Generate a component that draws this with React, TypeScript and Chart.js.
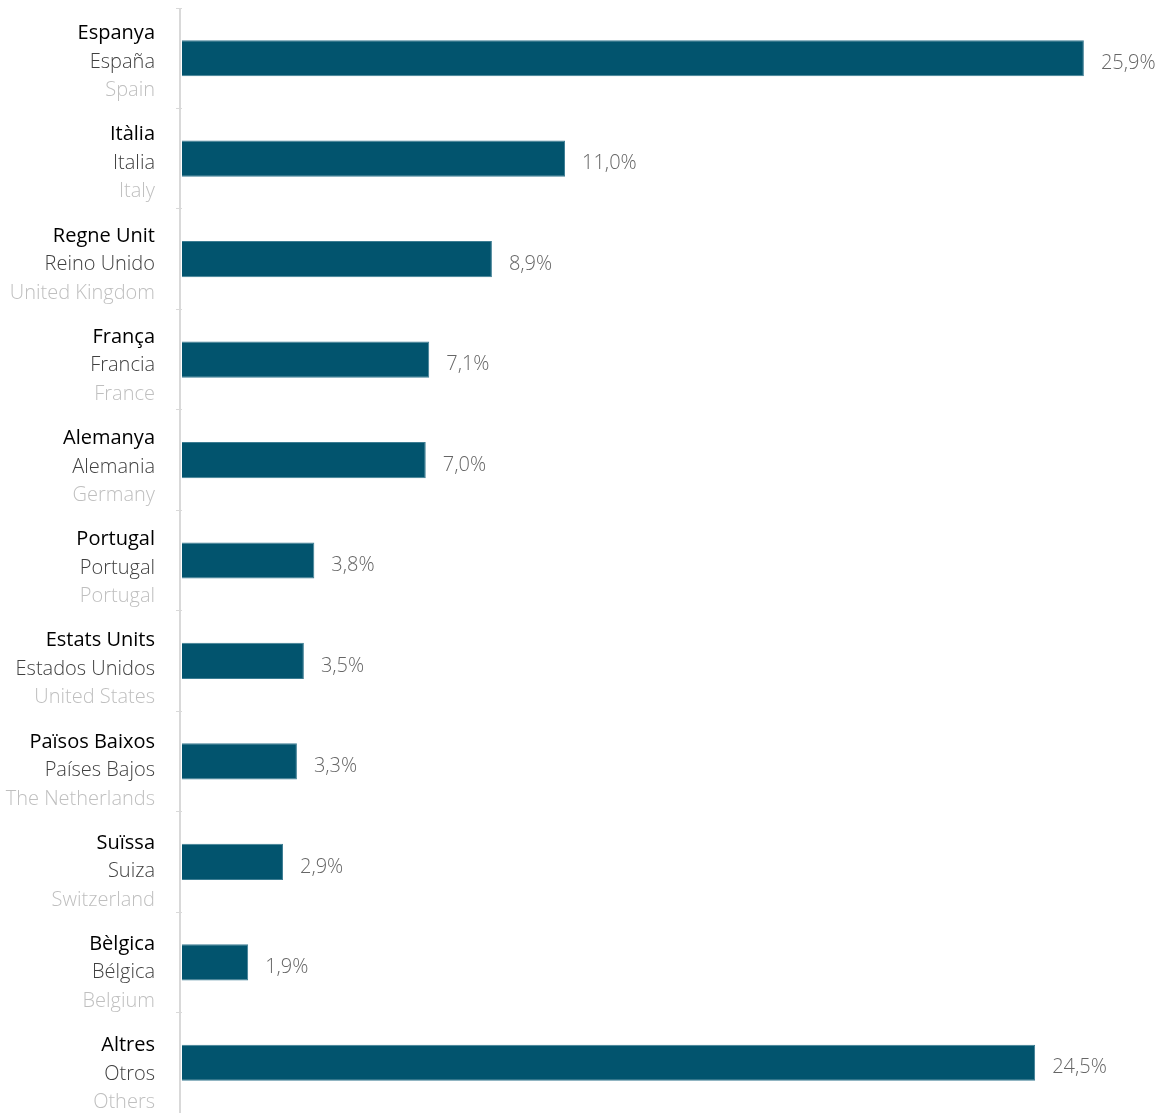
import React, { useEffect, useRef } from "react";
import { Chart, registerables } from "chart.js";

Chart.register(...registerables);

const catalanLabels = ["Espanya", "Itàlia", "Regne Unit", "França", "Alemanya", "Portugal", "Estats Units", "Països Baixos", "Suïssa", "Bèlgica", "Altres"];
const spanishLabels = ["España", "Italia", "Reino Unido", "Francia", "Alemania", "Portugal", "Estados Unidos", "Países Bajos", "Suiza", "Bélgica", "Otros"];
const englishLabels = ["Spain", "Italy", "United Kingdom", "France", "Germany", "Portugal", "United States", "The Netherlands", "Switzerland", "Belgium", "Others"];
const shares = [25.9, 11.0, 8.9, 7.1, 7.0, 3.8, 3.5, 3.3, 2.9, 1.9, 24.5];

const FONT = "'Open Sans', 'Noto Sans', sans-serif";

const axisLinePlugin = {
  id: "axisLine",
  beforeDatasetsDraw(chart: any) {
    const ctx = chart.ctx;
    const area = chart.chartArea;
    ctx.save();
    ctx.strokeStyle = "#d9d9d9";
    ctx.lineWidth = 2;
    ctx.beginPath();
    ctx.moveTo(area.left - 2, area.top);
    ctx.lineTo(area.left - 2, area.bottom);
    ctx.stroke();
    ctx.restore();
  },
};

const labelsPlugin = {
  id: "tripleLabels",
  afterDraw(chart: any) {
    const ctx = chart.ctx;
    const y = chart.scales.y;
    const x = chart.scales.x;
    const n = catalanLabels.length;
    const slot = chart.height / n;
    ctx.save();
    ctx.textBaseline = "middle";
    const right = 155;
    for (let i = 0; i < n; i++) {
      const ly = slot * (i + 0.5) + 11.5;
      ctx.textAlign = "right";
      ctx.font = `400 20px ${FONT}`;
      ctx.fillStyle = "#000000";
      ctx.fillText(catalanLabels[i], right, ly - 28.5);
      ctx.font = `300 20px ${FONT}`;
      ctx.fillStyle = "#404040";
      ctx.fillText(spanishLabels[i], right, ly);
      ctx.fillStyle = "#bfbfbf";
      ctx.fillText(englishLabels[i], right, ly + 28.5);
      // value label
      const cy = y.getPixelForValue(i);
      ctx.textAlign = "left";
      ctx.fillStyle = "#666666";
      ctx.font = `300 20px ${FONT}`;
      const v = shares[i];
      ctx.fillText(v.toFixed(1).replace(".", ",") + "%", x.getPixelForValue(v) + 17, cy + 5);
    }
    ctx.restore();
  },
};

export default function App() {
  const ref = useRef<HTMLCanvasElement | null>(null);
  useEffect(() => {
    if (!ref.current) return;
    const chart = new Chart(ref.current, {
      type: "bar",
      data: {
        labels: catalanLabels,
        datasets: [
          {
            data: shares,
            backgroundColor: "#02546e",
            borderColor: "#3d7d93",
            borderWidth: 1,
            categoryPercentage: 1,
            barPercentage: 0.36,
          },
        ],
      },
      options: {
        indexAxis: "y",
        responsive: false,
        animation: false,
        layout: { padding: { top: 8, right: 3, bottom: 0, left: 0 } },
        plugins: { legend: { display: false }, tooltip: { enabled: false } },
        scales: {
          x: { display: false, min: 0, max: 28 },
          y: {
            afterFit(scale: any) {
              scale.width = 182;
            },
            ticks: { display: false },
            grid: {
              drawOnChartArea: false,
              drawTicks: true,
              tickLength: 6,
              color: "#d9d9d9",
              offset: true,
            },
            border: { display: false },
          },
        },
      },
      plugins: [axisLinePlugin, labelsPlugin],
    });
    return () => chart.destroy();
  }, []);
  return (
    <div style={{ position: "absolute", left: 0, top: 0, width: 1160, height: 1113, background: "#fff" }}>
      <canvas ref={ref} width={1160} height={1113} />
    </div>
  );
}
